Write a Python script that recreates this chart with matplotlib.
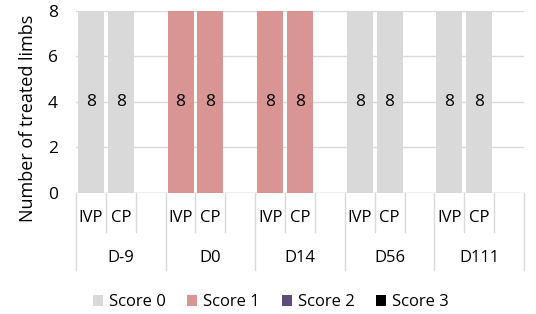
import numpy as np
import matplotlib.pyplot as plt
import matplotlib.transforms as mtransforms

plt.rcParams['font.family'] = ['Open Sans', 'DejaVu Sans']

days = ['D-9', 'D0', 'D14', 'D56', 'D111']
groups = ['IVP', 'CP']
scores = ['Score 0', 'Score 1', 'Score 2', 'Score 3']
colors = ['#d9d9d9', '#d99594', '#604a7b', '#000000']

# counts per bar (IVP, CP for each day) for each score
score0 = [8, 8, 0, 0, 0, 0, 8, 8, 8, 8]
score1 = [0, 0, 8, 8, 8, 8, 0, 0, 0, 0]
score2 = [0, 0, 0, 0, 0, 0, 0, 0, 0, 0]
score3 = [0, 0, 0, 0, 0, 0, 0, 0, 0, 0]
series = [score0, score1, score2, score3]

fig = plt.figure(figsize=(5.36, 3.14), dpi=100)
ax = fig.add_axes([0.1418, 0.3854, 0.8358, 0.5796])

# bar positions: 3 slots per day (IVP, CP, blank)
xpos = []
for d in range(len(days)):
    for g in range(len(groups)):
        xpos.append(d * 3 + g)
xpos = np.array(xpos)

bottom = np.zeros(len(xpos))
for name, vals, c in zip(scores, series, colors):
    vals = np.array(vals, dtype=float)
    ax.bar(xpos, vals, width=0.87, bottom=bottom, color=c, label=name, zorder=2)
    for x, v, b in zip(xpos, vals, bottom):
        if v > 0:
            ax.text(x, b + v / 2, f'{int(v)}', ha='center', va='center',
                    fontsize=12.5, color='black', zorder=3)
    bottom += vals

ax.set_xlim(-0.5, len(days) * 3 - 0.5)
ax.set_ylim(0, 8)
ax.set_yticks([0, 2, 4, 6, 8])
ax.tick_params(axis='y', length=0, labelsize=12.5, pad=13)
ax.set_xticks([])
ax.yaxis.grid(True, color='#d9d9d9', linewidth=1, zorder=0)
for s in ax.spines.values():
    s.set_visible(False)
ax.axhline(0, color='#d9d9d9', linewidth=1, zorder=1)
ax.set_ylabel('Number of treated limbs', fontsize=13)
ax.yaxis.set_label_coords(-0.088, 0.41)

# hierarchical category axis
trans = mtransforms.blended_transform_factory(ax.transData, ax.transAxes)
for k in range(len(days) * 3 + 1):
    y_end = -0.423 if k % 3 == 0 else -0.214
    ax.plot([k - 0.5, k - 0.5], [0, y_end], color='#d9d9d9', linewidth=1,
            transform=trans, clip_on=False)
for x, i in zip(xpos, range(len(xpos))):
    ax.text(x, -0.137, groups[i % 2], ha='center', va='center', fontsize=12,
            transform=trans)
for d, name in enumerate(days):
    ax.text(d * 3 + 1, -0.357, name, ha='center', va='center', fontsize=12,
            transform=trans)

ax.legend(loc='center', bbox_to_anchor=(0.435, -0.6), ncol=4, frameon=False,
          fontsize=12, handlelength=0.6, handleheight=0.6, handletextpad=0.36,
          columnspacing=1.3)

fig.savefig('out.png', dpi=100)
